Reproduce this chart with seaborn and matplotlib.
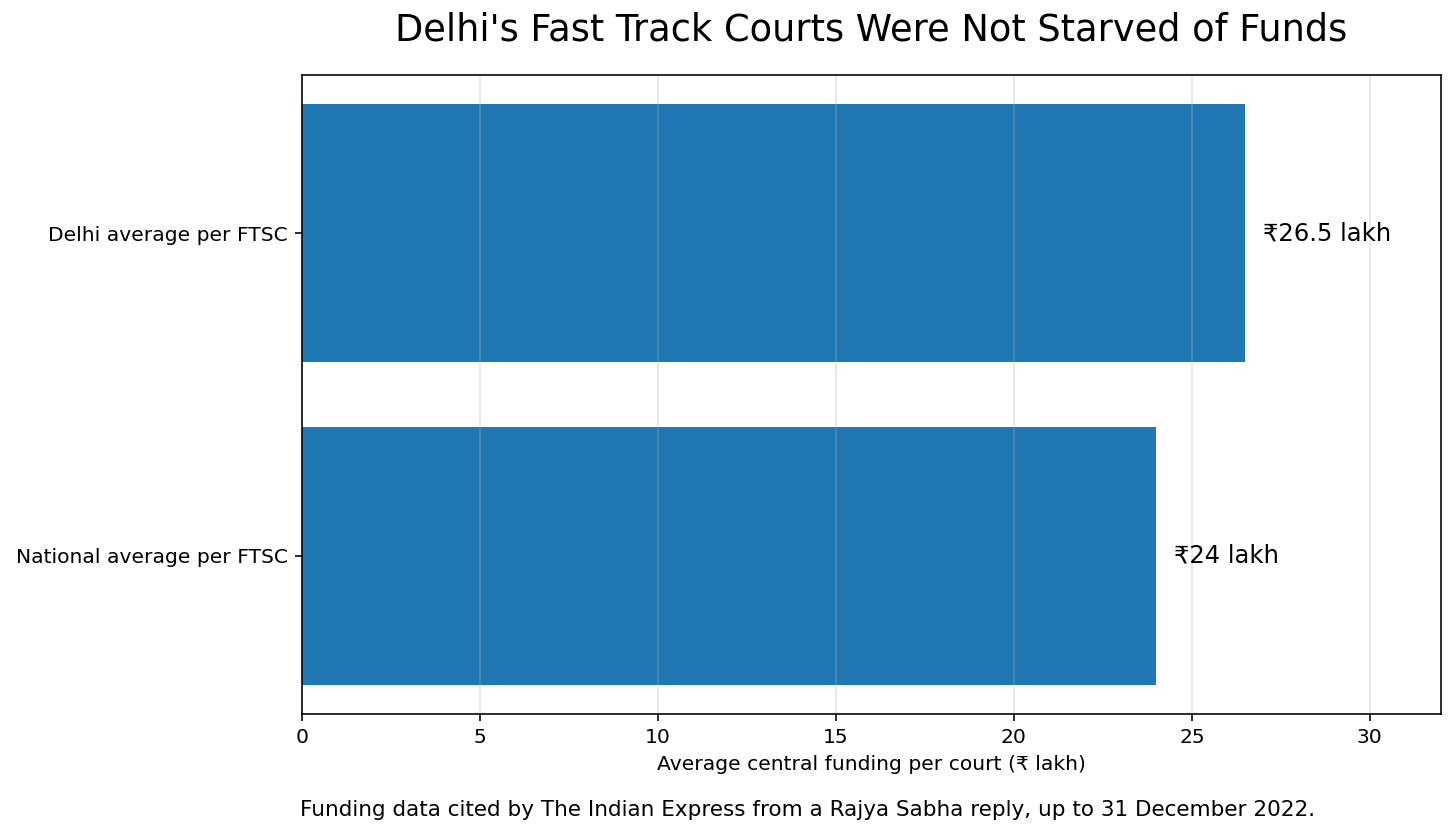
import matplotlib
matplotlib.use("Agg")
import matplotlib.pyplot as plt
import seaborn as sns
import pandas as pd

categories = ["Delhi average per FTSC", "National average per FTSC"]
values = [26.5, 24.0]
value_labels = ["₹26.5 lakh", "₹24 lakh"]
xticks = [0, 5, 10, 15, 20, 25, 30]

df = pd.DataFrame({"category": categories, "value": values})

plt.rcParams["font.family"] = ["DejaVu Sans"]
DPI = 145.6
fig, ax = plt.subplots(figsize=(1456/DPI, 836/DPI), dpi=DPI)
fig.subplots_adjust(left=302/1456, right=1441/1456, top=1-75/836, bottom=1-714/836)

sns.barplot(data=df, x="value", y="category", orient="h", color="#1f77b4",
            saturation=1, width=0.8, ax=ax, order=categories)

ax.set_xlim(0, 32)
ax.set_ylim(1.49, -0.49)
ax.set_xticks(xticks)
ax.grid(axis="x", color="#b0b0b0", alpha=0.35, linewidth=0.8)
ax.set_ylabel("")
ax.set_xlabel("Average central funding per court (₹ lakh)", fontsize=10)
ax.tick_params(labelsize=10)

for i, (v, lab) in enumerate(zip(values, value_labels)):
    ax.text(v + 0.5, i, lab, va="center", ha="left", fontsize=12)

ax.set_title("Delhi's Fast Track Courts Were Not Starved of Funds", fontsize=18.2, pad=17)
fig.text(808/1456, 1-810/836, "Funding data cited by The Indian Express from a Rajya Sabha reply, up to 31 December 2022.",
         ha="center", va="center", fontsize=10.65)

fig.savefig("out.png", dpi=DPI)
